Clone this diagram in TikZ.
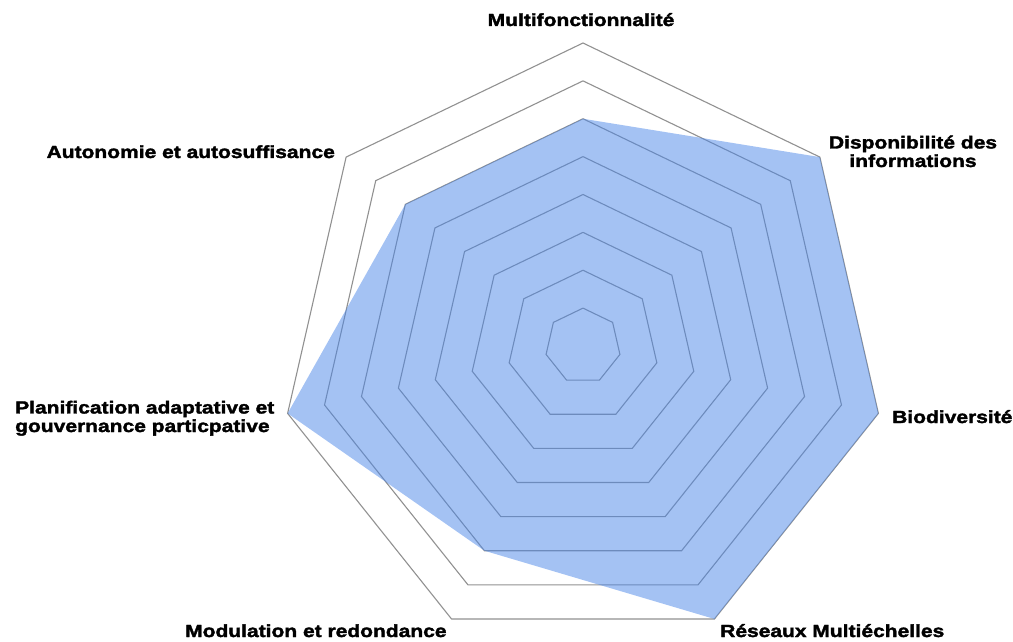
\documentclass[tikz,border=0pt]{standalone}
\usepackage{fontspec}
\newfontfamily\lblfont{Liberation Sans}[FakeStretch=1.2,FakeBold=2]
\usetikzlibrary{calc}
\definecolor{ringgray}{RGB}{145,145,145}
\definecolor{areablue}{RGB}{74,134,232}
\begin{document}
\begin{tikzpicture}[x=1pt,y=1pt,
  lbl/.style={font=\lblfont\bfseries\fontsize{17.5}{18.5}\selectfont, inner sep=0pt, text=black},
  ring/.style={draw=ringgray, line width=1.1pt, line join=miter},
  area/.style={fill=areablue, fill opacity=0.5}]
\useasboundingbox (0,0) rectangle (1013,641);
\coordinate (C) at (583,295);
\def\R{303}
% grid rings
\foreach \j in {1,...,8}{
  \draw[ring] ($(C)+(90:{\j*\R/8})$)
    \foreach \k in {1,...,6}{ -- ($(C)+({90-\k*360/7}:{\j*\R/8})$) } -- cycle;
}
% data vertices
\coordinate (v0) at ($(C)+(90:{0.75*\R})$);
\coordinate (v1) at ($(C)+({90-1*360/7}:{1.00*\R})$);
\coordinate (v2) at ($(C)+({90-2*360/7}:{1.00*\R})$);
\coordinate (v3) at ($(C)+({90-3*360/7}:{1.00*\R})$);
\coordinate (v4) at ($(C)+({90-4*360/7}:{0.75*\R})$);
\coordinate (v5) at ($(C)+({90-5*360/7}:{1.00*\R})$);
\coordinate (v6) at ($(C)+({90-6*360/7}:{0.75*\R})$);
\fill[area] (v0) -- (v1) -- (v2) -- (v3) -- (v4) -- (v5) -- (v6) -- cycle;
% labels
\node[lbl, anchor=base] (multi) at (581,615) {Multifonctionnalité};
\node[lbl, anchor=base east] (auto) at (335,483) {Autonomie et autosuffisance};
\node[lbl, anchor=base, align=center] (dispo) at (913,474) {Disponibilité des\\informations};
\node[lbl, anchor=base west] (bio) at (892,218) {Biodiversité};
\node[lbl, anchor=base west, align=left] (plan) at (15,209) {Planification adaptative et\\gouvernance particpative};
\node[lbl, anchor=base west] (modul) at (185,4) {Modulation et redondance};
\node[lbl, anchor=base west] (reseau) at (720,4) {Réseaux Multiéchelles};
\end{tikzpicture}
\end{document}
